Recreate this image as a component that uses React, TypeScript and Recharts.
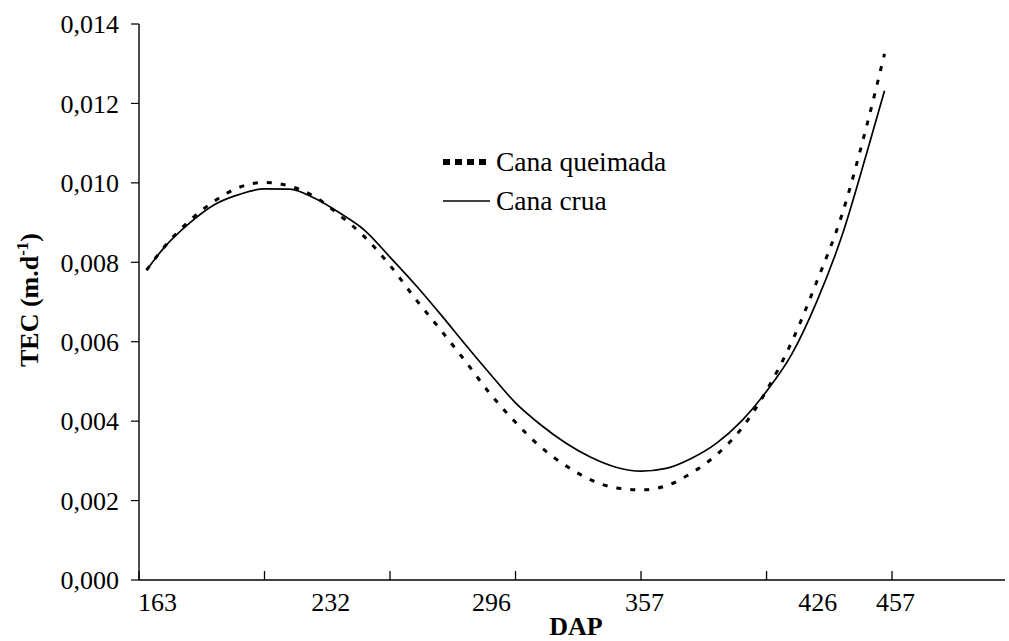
import React from 'react';
import { LineChart, Line, XAxis, YAxis, Legend } from 'recharts';

const dap = [163, 170, 180, 190, 200, 210, 220, 230, 240, 250, 260, 270, 280, 290, 300, 310, 320, 330, 340, 350, 360, 370, 380, 390, 400, 410, 420, 430, 440, 450, 457];
const canaQueimada = [0.00780, 0.00838, 0.00904, 0.00954, 0.00989, 0.01001, 0.00992, 0.00965, 0.00918, 0.00863, 0.00792, 0.00709, 0.00631, 0.00551, 0.00468, 0.00397, 0.00335, 0.00288, 0.00252, 0.00232, 0.00227, 0.00237, 0.00269, 0.00315, 0.00381, 0.00477, 0.00599, 0.00751, 0.00919, 0.01146, 0.01325];
const canaCrua = [0.00780, 0.00837, 0.00898, 0.00945, 0.00971, 0.00985, 0.00984, 0.00961, 0.00924, 0.00880, 0.00813, 0.00744, 0.00670, 0.00593, 0.00518, 0.00446, 0.00391, 0.00345, 0.00309, 0.00284, 0.00274, 0.00281, 0.00306, 0.00344, 0.00400, 0.00475, 0.00568, 0.00701, 0.00866, 0.01077, 0.01232];
const xTickMarks = [160, 210, 260, 310, 360, 410, 460];
const xTickLabels = [163, 232, 296, 357, 426, 457];
const yTicks = [0, 0.002, 0.004, 0.006, 0.008, 0.01, 0.012, 0.014];
const seriesNames = ['Cana queimada', 'Cana crua'];

const data = dap.map((d, i) => ({ dap: d, queimada: canaQueimada[i], crua: canaCrua[i] }));
const allXTicks = [...xTickMarks, ...xTickLabels].sort((a, b) => a - b);

const FONT = 'Liberation Serif, serif';

const XTick = (props: any) => {
  const { x, y, payload } = props;
  const v = payload.value;
  return (
    <g>
      {xTickMarks.includes(v) && <line x1={x} x2={x} y1={y} y2={y - 9} stroke="#000" strokeWidth={1.3} />}
      {xTickLabels.includes(v) && (
        <text x={x + 11} y={y + 31} textAnchor="middle" fontFamily={FONT} fontSize={26} fill="#000">
          {v}
        </text>
      )}
    </g>
  );
};

const LegendContent = () => (
  <div style={{ fontFamily: FONT, fontSize: 27.5, color: '#000' }}>
    {seriesNames.map((name, i) => (
      <div key={i} style={{ display: 'flex', alignItems: 'center', height: 39, whiteSpace: 'nowrap' }}>
        <svg width={54} height={12} style={{ display: 'block' }}>
          {i === 0 ? (
            <line x1={1} y1={6} x2={44} y2={6} stroke="#000" strokeWidth={6} strokeDasharray="7 5" />
          ) : (
            <line x1={1} y1={6} x2={48} y2={6} stroke="#000" strokeWidth={1.7} />
          )}
        </svg>
        <span>{name}</span>
      </div>
    ))}
  </div>
);

export default function App() {
  return (
    <div style={{ position: 'absolute', left: 0, top: 0, width: 1009, height: 641, background: '#fff' }}>
      <LineChart width={1009} height={641} data={data} margin={{ top: 24, right: 4, left: 0, bottom: 0 }}>
        <XAxis
          dataKey="dap"
          type="number"
          domain={[160, 505]}
          allowDataOverflow
          ticks={allXTicks}
          interval={0}
          tick={<XTick />}
          tickLine={false}
          tickSize={0}
          tickMargin={0}
          height={61}
          axisLine={{ stroke: '#000', strokeWidth: 1.4 }}
          label={{
            content: (p: any) => {
              const vb = p.viewBox || {};
              return (
                <text x={vb.x + vb.width / 2 + 4} y={vb.y + 55} textAnchor="middle" fontFamily={FONT} fontSize={26} fontWeight="bold" fill="#000">
                  DAP
                </text>
              );
            },
          }}
        />
        <YAxis
          type="number"
          domain={[0, 0.014]}
          ticks={yTicks}
          width={139}
          tickFormatter={(v: number) => v.toFixed(3).replace('.', ',')}
          tick={{ fontFamily: FONT, fontSize: 26, fill: '#000' }}
          tickSize={8}
          tickMargin={12}
          axisLine={{ stroke: '#000', strokeWidth: 1.4 }}
          tickLine={{ stroke: '#000', strokeWidth: 1.2 }}
          label={{
            content: () => (
              <text x={38} y={300} transform="rotate(-90, 38, 300)" textAnchor="middle" fontFamily={FONT} fontSize={26} fontWeight="bold" fill="#000">
                TEC (m.d
                <tspan dy={-10} fontSize={17}>-1</tspan>
                <tspan dy={10}>)</tspan>
              </text>
            ),
          }}
        />
        <Legend
          layout="vertical"
          align="center"
          verticalAlign="middle"
          content={<LegendContent />}
          wrapperStyle={{ left: 442, top: 142, width: 320 }}
        />
        <Line
          type="monotone"
          dataKey="queimada"
          name={seriesNames[0]}
          stroke="#000"
          strokeWidth={3}
          strokeDasharray="5 9"
          dot={false}
          isAnimationActive={false}
        />
        <Line
          type="monotone"
          dataKey="crua"
          name={seriesNames[1]}
          stroke="#000"
          strokeWidth={1.7}
          dot={false}
          isAnimationActive={false}
        />
      </LineChart>
    </div>
  );
}
